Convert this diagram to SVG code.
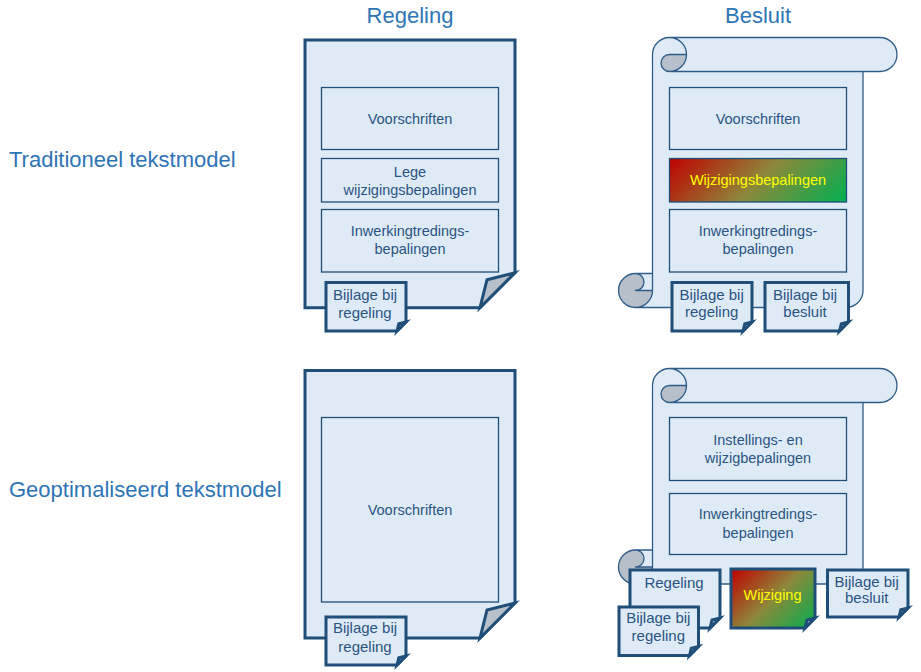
<svg xmlns="http://www.w3.org/2000/svg" width="921" height="672" viewBox="0 0 921 672">
<defs>
<linearGradient id="rg1" gradientUnits="userSpaceOnUse" x1="669.5" y1="158.5" x2="779.75" y2="268.75">
<stop offset="0" stop-color="#c00000"/>
<stop offset="0.5" stop-color="#8e873a"/>
<stop offset="1" stop-color="#00b050"/>
</linearGradient>
<linearGradient id="rg2" gradientUnits="userSpaceOnUse" x1="731" y1="569" x2="802.5" y2="640.5">
<stop offset="0" stop-color="#c00000"/>
<stop offset="0.5" stop-color="#8e873a"/>
<stop offset="1" stop-color="#00b050"/>
</linearGradient>
<style>
.doc{fill:#deebf7;stroke:#1f4e79;stroke-width:3;stroke-linejoin:miter}
.flap{fill:#b6bfca;stroke:#1f4e79;stroke-width:3;stroke-linejoin:miter}
.grad{fill:url(#rg2);stroke:#1f4e79;stroke-width:3}
.inner{fill:#deebf7;stroke:#1f4e79;stroke-width:1.3}
.ginner{fill:url(#rg1);stroke:#1f4e79;stroke-width:1.3}
.scroll{fill:#deebf7;stroke:none}
.dark{fill:#b6bfca;stroke:none}
.sline{fill:none;stroke:#2e5c87;stroke-width:1.3;stroke-linejoin:round}
text{font-family:"Liberation Sans",Arial,sans-serif}
.h{font-size:22px;fill:#2e75b6}
.hc{font-size:22px;fill:#2e75b6;text-anchor:middle}
.t{font-size:14.5px;fill:#2a5482;text-anchor:middle}
.b{font-size:15px;fill:#2a5482;text-anchor:middle}
.y{font-size:14.5px;fill:#ffff00;text-anchor:middle}
</style>
</defs>

<g id="headings">
<text class="hc" x="410" y="22.5">Regeling</text>
<text class="hc" x="758" y="22.5">Besluit</text>
</g>
<g id="row-labels">
<text class="h" x="9" y="166.5">Traditioneel tekstmodel</text>
<text class="h" x="9" y="497">Geoptimaliseerd tekstmodel</text>
</g>

<g id="connectors"></g>

<g id="regeling-traditioneel">
<path class="doc" d="M305,40 H515 V272.7 L480,307.7 H305 Z"/>
<path class="flap" d="M480,307.7 L487,279.7 L515,272.7 Z"/>
</g>
<g id="tl-voorschriften">
<rect class="inner" x="321.5" y="87.5" width="177" height="62"/>
<text class="t" x="410" y="124.3">Voorschriften</text>
</g>
<g id="tl-lege">
<rect class="inner" x="321.5" y="158.5" width="177" height="43.5"/>
<text class="t" x="410" y="176.5">Lege</text>
<text class="t" x="410" y="194.5">wijzigingsbepalingen</text>
</g>
<g id="tl-inwerking">
<rect class="inner" x="321.5" y="209.5" width="177" height="62.5"/>
<text class="t" x="410" y="236">Inwerkingtredings-</text>
<text class="t" x="410" y="254.3">bepalingen</text>
</g>
<g id="tl-bijlage">
<path class="doc" d="M326,282.5 H406 V322 L397,331 H326 Z"/>
<path class="flap" d="M397,331 L398.8,323.8 L406,322 Z"/>
<text class="b" x="365" y="300">Bijlage bij</text>
<text class="b" x="365" y="317.5">regeling</text>
</g>

<g id="besluit-traditioneel">
<path class="scroll" d="M652.5,273.5 L652.5,54.5 A17,17 0 0 1 669.5,37.5 L880,37.5 A17,17 0 0 1 880,71.5 L863,71.5 L863,290.5 A17,17 0 0 1 846,307.5 L635.5,307.5 A17,17 0 0 1 635.5,273.5 Z"/>
<path class="dark" d="M686.5,54.5 A17,17 0 0 1 669.5,71.5 A8.5,8.5 0 0 1 669.5,54.5 Z"/>
<path class="dark" d="M652.5,290.5 A17,17 0 1 1 635.5,273.5 A8.5,8.5 0 0 1 635.5,290.5 Z"/>
<path class="sline" d="M652.5,273.5 L652.5,54.5 A17,17 0 0 1 669.5,37.5 L880,37.5 A17,17 0 0 1 880,71.5 L863,71.5 L863,290.5 A17,17 0 0 1 846,307.5 L635.5,307.5 A17,17 0 0 1 635.5,273.5 Z M669.5,37.5 A17,17 0 0 1 669.5,71.5 A8.5,8.5 0 0 1 669.5,54.5 L686.5,54.5 M863,71.5 L669.5,71.5 M635.5,273.5 A8.5,8.5 0 0 1 635.5,290.5 L652.5,290.5 M635.5,307.5 A17,17 0 0 0 652.5,290.5 L652.5,273.5"/>
</g>
<g id="tr-voorschriften">
<rect class="inner" x="669.5" y="87.5" width="177" height="62"/>
<text class="t" x="758" y="124.3">Voorschriften</text>
</g>
<g id="tr-wijzigingsbepalingen">
<rect class="ginner" x="669.5" y="158.5" width="177" height="43.5"/>
<text class="y" x="758" y="185">Wijzigingsbepalingen</text>
</g>
<g id="tr-inwerking">
<rect class="inner" x="669.5" y="209.5" width="177" height="62.5"/>
<text class="t" x="758" y="236">Inwerkingtredings-</text>
<text class="t" x="758" y="254.3">bepalingen</text>
</g>
<g id="tr-bijlage-regeling">
<path class="doc" d="M672,282.5 H752 V322 L743,331 H672 Z"/>
<path class="flap" d="M743,331 L744.8,323.8 L752,322 Z"/>
<text class="b" x="711.7" y="299.5">Bijlage bij</text>
<text class="b" x="711.7" y="317.3">regeling</text>
</g>
<g id="tr-bijlage-besluit">
<path class="doc" d="M765,282.5 H848.5 V322 L839.5,331 H765 Z"/>
<path class="flap" d="M839.5,331 L841.3,323.8 L848.5,322 Z"/>
<text class="b" x="805" y="299.5">Bijlage bij</text>
<text class="b" x="805" y="317.3">besluit</text>
</g>

<g id="regeling-geoptimaliseerd">
<path class="doc" d="M305,370.5 H515 V603 L480,638 H305 Z"/>
<path class="flap" d="M480,638 L487,610 L515,603 Z"/>
</g>
<g id="bl-voorschriften">
<rect class="inner" x="321.5" y="417.5" width="177" height="184.5"/>
<text class="t" x="410" y="515">Voorschriften</text>
</g>
<g id="bl-bijlage">
<path class="doc" d="M326,617 H406 V656 L397,665 H326 Z"/>
<path class="flap" d="M397,665 L398.8,657.8 L406,656 Z"/>
<text class="b" x="365" y="633.3">Bijlage bij</text>
<text class="b" x="365" y="651.7">regeling</text>
</g>

<g id="besluit-geoptimaliseerd">
<path class="scroll" d="M652.5,550 L652.5,385.5 A17,17 0 0 1 669.5,368.5 L880,368.5 A17,17 0 0 1 880,402.5 L863,402.5 L863,567 A17,17 0 0 1 846,584 L635.5,584 A17,17 0 0 1 635.5,550 Z"/>
<path class="dark" d="M686.5,385.5 A17,17 0 0 1 669.5,402.5 A8.5,8.5 0 0 1 669.5,385.5 Z"/>
<path class="dark" d="M652.5,567 A17,17 0 1 1 635.5,550 A8.5,8.5 0 0 1 635.5,567 Z"/>
<path class="sline" d="M652.5,550 L652.5,385.5 A17,17 0 0 1 669.5,368.5 L880,368.5 A17,17 0 0 1 880,402.5 L863,402.5 L863,567 A17,17 0 0 1 846,584 L635.5,584 A17,17 0 0 1 635.5,550 Z M669.5,368.5 A17,17 0 0 1 669.5,402.5 A8.5,8.5 0 0 1 669.5,385.5 L686.5,385.5 M863,402.5 L669.5,402.5 M635.5,550 A8.5,8.5 0 0 1 635.5,567 L652.5,567 M635.5,584 A17,17 0 0 0 652.5,567 L652.5,550"/>
</g>
<g id="br-instellings">
<rect class="inner" x="669.5" y="417.5" width="177" height="63"/>
<text class="t" x="758" y="445">Instellings- en</text>
<text class="t" x="758" y="463.3">wijzigbepalingen</text>
</g>
<g id="br-inwerking">
<rect class="inner" x="669.5" y="493.5" width="177" height="61"/>
<text class="t" x="758" y="519.3">Inwerkingtredings-</text>
<text class="t" x="758" y="538.3">bepalingen</text>
</g>
<g id="br-regeling">
<path class="doc" d="M630,570 H720 V618 L710,628 H630 Z"/>
<path class="flap" d="M710,628 L712,620 L720,618 Z"/>
<text class="b" x="674" y="588.3">Regeling</text>
</g>
<g id="br-bijlage-regeling">
<path class="doc" d="M619,607 H698.5 V646.5 L689.5,655.5 H619 Z"/>
<path class="flap" d="M689.5,655.5 L691.3,648.3 L698.5,646.5 Z"/>
<text class="b" x="658.3" y="623.3">Bijlage bij</text>
<text class="b" x="658.3" y="641">regeling</text>
</g>
<g id="br-wijziging">
<path class="grad" d="M731,569 H815 V618 L805,628 H731 Z"/>
<path class="flap" d="M805,628 L807,620 L815,618 Z"/>
<text class="y" x="772.5" y="600">Wijziging</text>
</g>
<g id="br-bijlage-besluit">
<path class="doc" d="M827.5,570 H908 V608 L899,617 H827.5 Z"/>
<path class="flap" d="M899,617 L900.8,609.8 L908,608 Z"/>
<text class="b" x="866.7" y="586.7">Bijlage bij</text>
<text class="b" x="866.7" y="603.3">besluit</text>
</g>
</svg>
